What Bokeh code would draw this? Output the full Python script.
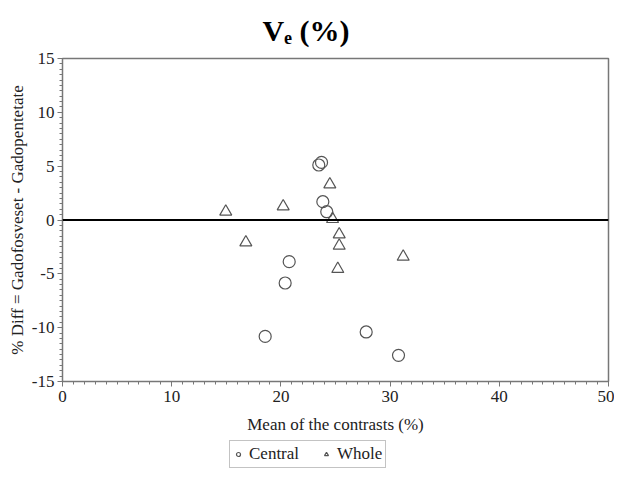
from bokeh.plotting import figure
from bokeh.layouts import column
from bokeh.models import (Span, Legend, LegendItem, FixedTicker, Range1d,
                          CustomJSTickFormatter)
from bokeh.embed import file_html
from bokeh.resources import INLINE

central_x = [23.47, 23.72, 23.84, 24.20, 20.76, 20.39, 18.56, 27.81, 30.77]
central_y = [5.11, 5.35, 1.70, 0.77, -3.87, -5.85, -10.81, -10.40, -12.57]
whole_x = [14.95, 16.79, 20.21, 24.48, 24.73, 25.34, 25.34, 25.21, 31.20]
whole_y = [0.77, -2.08, 1.26, 3.31, 0.09, -1.34, -2.39, -4.55, -3.41]
x_ticks = [0, 10, 20, 30, 40, 50]
y_ticks = [-15, -10, -5, 0, 5, 10, 15]
series_names = ["Central", "Whole"]

SERIF = "Liberation Serif"
MARK = "#555555"

p = figure(width=614, height=436, output_backend="svg", toolbar_location=None,
           x_range=Range1d(0, 50), y_range=Range1d(-15, 15),
           min_border_left=62, min_border_right=6, min_border_top=58,
           min_border_bottom=55)
p.grid.visible = False
p.outline_line_color = "#777777"
p.outline_line_width = 1.5

p.title.text = "V\u2091 (%)"
p.title.text_font = SERIF
p.title.text_font_style = "bold"
p.title.text_font_size = "30px"
p.title.text_color = "black"
p.title.align = "left"
p.title.offset = 200
p.title.standoff = 23

p.scatter(central_x, central_y, marker="circle", size=12, fill_color=None,
          line_color=MARK, line_width=1.2)
p.scatter(whole_x, whole_y, marker="triangle", size=12, fill_color=None,
          line_color=MARK, line_width=1.2)

p.add_layout(Span(location=0, dimension="width", line_color="black", line_width=2))

fmt = CustomJSTickFormatter(code="return tick.toString();")
for ax in (p.xaxis[0], p.yaxis[0]):
    ax.formatter = fmt
    ax.axis_line_color = "#777777"
    ax.major_tick_line_color = "#777777"
    ax.minor_tick_line_color = "#777777"
    ax.major_tick_out = 5
    ax.major_tick_in = 0
    ax.minor_tick_out = 3
    ax.minor_tick_in = 0
    ax.major_label_text_font = SERIF
    ax.major_label_text_font_size = "17px"
    ax.major_label_text_color = "#222222"
    ax.axis_label_text_font = SERIF
    ax.axis_label_text_font_style = "normal"
    ax.axis_label_text_font_size = "17px"
    ax.axis_label_text_color = "#222222"

p.xaxis.ticker = FixedTicker(ticks=x_ticks, minor_ticks=list(range(0, 51)))
p.yaxis.ticker = FixedTicker(ticks=y_ticks, minor_ticks=[v / 2 for v in range(-30, 31)])
p.xaxis.axis_label = "Mean of the contrasts (%)"
p.yaxis.axis_label = "% Diff = Gadofosveset - Gadopentetate"
p.xaxis.major_label_standoff = 4
p.yaxis.major_label_standoff = 3
p.xaxis.axis_label_standoff = 10
p.yaxis.axis_label_standoff = 2

# Legend strip below the chart (its glyphs use the series' first points,
# which fall outside this strip's ranges, so only the legend shows)
q = figure(width=614, height=33, output_backend="svg", toolbar_location=None,
           x_range=Range1d(0, 1), y_range=Range1d(0, 1),
           x_axis_location=None, y_axis_location=None,
           min_border_left=0, min_border_right=0, min_border_top=0,
           min_border_bottom=0)
q.grid.visible = False
q.outline_line_color = None
l1 = q.scatter(central_x[:1], central_y[:1], marker="circle", size=12,
               fill_color=None, line_color=MARK, line_width=1.2)
l2 = q.scatter(whole_x[:1], whole_y[:1], marker="triangle", size=12,
               fill_color=None, line_color=MARK, line_width=1.2)
legend = Legend(items=[LegendItem(label=series_names[0], renderers=[l1]),
                       LegendItem(label=series_names[1], renderers=[l2])],
                orientation="horizontal", location=(167, 1),
                label_text_font=SERIF, label_text_font_size="17px",
                label_text_color="#222222",
                glyph_width=10, glyph_height=10, spacing=22, padding=3,
                label_standoff=6, margin=0,
                border_line_color="#888888", border_line_width=1.5)
q.add_layout(legend)

open("out.html", "w").write(file_html(column(p, q, spacing=0), INLINE))
